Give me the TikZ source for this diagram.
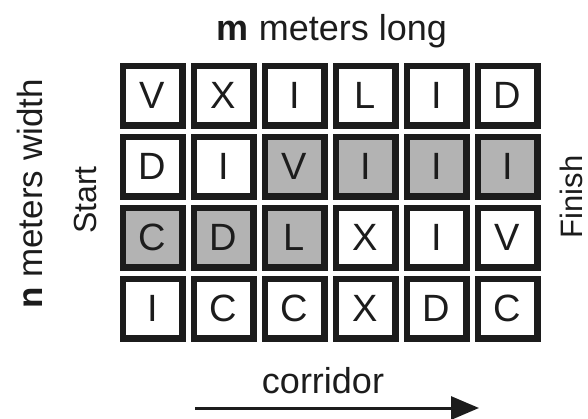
\documentclass[tikz,border=0pt]{standalone}
\usepackage{fontspec}
\setmainfont{Liberation Sans}
\usetikzlibrary{arrows.meta}
\definecolor{cellgray}{RGB}{179,179,179}
\definecolor{ink}{RGB}{28,28,28}
\begin{document}
\begin{tikzpicture}[x=1pt,y=-1pt,
  cell/.style={draw=ink, line width=6.5pt, minimum size=59.5pt, inner sep=0pt,
    fill=white, text=ink, font=\fontsize{38}{40}\selectfont},
  shaded/.style={cell, fill=cellgray},
  label/.style={text=ink, inner sep=0pt},
  flow/.style={draw=ink, line width=3pt, -{Triangle[length=28pt,width=23pt]}}]
  \useasboundingbox (0,0) rectangle (588,418);

  % grid of letter cells: row by row, left to right
  \foreach \txt [count=\i] in {V,X,I,L,I,D}
    \node[cell] (a\i) at ({152.5+71*(\i-1)},95.5) {\txt};
  \foreach \txt/\st [count=\i] in {D/cell,I/cell,V/shaded,I/shaded,I/shaded,I/shaded}
    \node[\st] (b\i) at ({152.5+71*(\i-1)},166.5) {\txt};
  \foreach \txt/\st [count=\i] in {C/shaded,D/shaded,L/shaded,X/cell,I/cell,V/cell}
    \node[\st] (c\i) at ({152.5+71*(\i-1)},237.5) {\txt};
  \foreach \txt [count=\i] in {I,C,C,X,D,C}
    \node[cell] (d\i) at ({152.5+71*(\i-1)},308.5) {\txt};

  % dimensions and ends of the corridor
  \node[label, anchor=base, font=\fontsize{36}{38}\selectfont] (len) at (332,40)
    {\textbf{m} meters long};
  \node[label, anchor=base, rotate=90, font=\fontsize{35}{37}\selectfont] (wid) at (42,194)
    {\textbf{n} meters width};
  \node[label, anchor=base, rotate=90, font=\fontsize{32}{34}\selectfont] (start) at (96,200)
    {Start};
  \node[label, anchor=base, rotate=90, font=\fontsize{31}{33}\selectfont] (finish) at (582,197)
    {Finish};

  % direction of travel
  \node[label, anchor=base, font=\fontsize{36}{38}\selectfont] (corr) at (323,393) {corridor};
  \coordinate (from) at (195,408);
  \coordinate (to) at (479,408);
  \draw[flow] (from) -- (to);
\end{tikzpicture}
\end{document}
